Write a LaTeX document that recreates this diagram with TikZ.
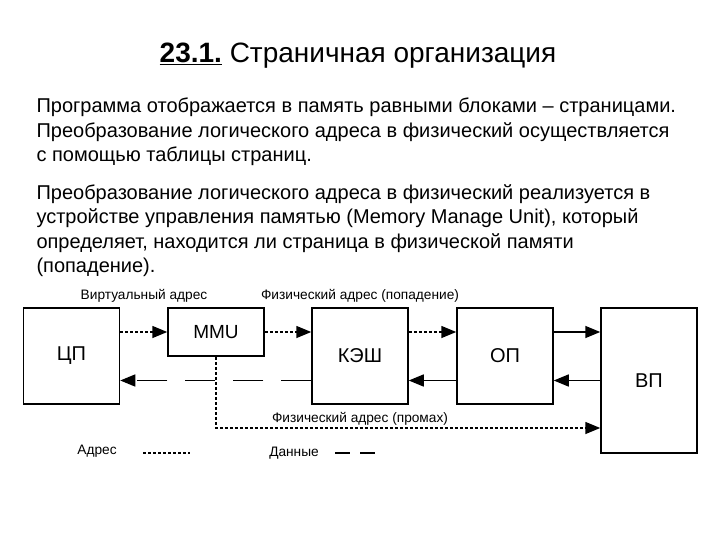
\documentclass[tikz,border=0pt]{standalone}
\usepackage{fontspec}
\setmainfont{Liberation Sans}
\usepackage{tikz}
\usetikzlibrary{arrows.meta}

\begin{document}
\begin{tikzpicture}[x=1pt,y=-1pt,
    block/.style={draw,line width=1.5pt,minimum width=96pt,minimum height=96pt,inner sep=0pt,font=\fontsize{20}{24}\selectfont},
    tag/.style={font=\fontsize{13.7}{16}\selectfont},
    para/.style={anchor=north west,align=left,font=\fontsize{20}{24.5}\selectfont},
    addr/.style={line width=1.5pt,dash pattern=on 3pt off 2pt},
    data/.style={line width=1.5pt,dash pattern=on 30pt off 18pt},
    tip/.style={-{Triangle[length=15pt,width=12pt]}}]
			\useasboundingbox (0,0) rectangle (720,540);
			\node (title) at (358,56) {\fontsize{28}{33}\selectfont\underline{\textbf{23.1.}} Страничная организация};
			\node [para] (par1) at (33,94.5)
			{Программа отображается в память равными блоками – страницами.\\
			 Преобразование логического адреса в физический осуществляется\\
			 с помощью таблицы страниц.};
			\node [para] (par2) at (33,181)
			{Преобразование логического адреса в физический реализуется в\\
			 устройстве управления памятью (Memory Manage Unit), который\\
			 определяет, находится ли страница в физической памяти\\
			 (попадение).};

			\node [block] (cpu) at (71.5,356) {ЦП};
			\node [block,minimum height=48pt,font=\fontsize{19}{23}\selectfont] (mmu) at (216,332) {MMU};
			\node [block] (cache) at (360,356) {КЭШ};
			\node [block] (ram) at (505,356) {ОП};
			\node [block,minimum height=145pt] (disk) at (649,380.5) {ВП};

			\draw [addr,tip] (cpu.east |- mmu.west) -- (mmu.west);
			\draw [addr,tip] (mmu.east) -- (cache.west |- mmu.east);
			\draw [addr,tip] (cache.east |- mmu.east) -- (ram.west |- mmu.east);
			\draw [line width=1.5pt,tip] (ram.east |- mmu.east) -- (disk.west |- mmu.east);

			\draw [line width=1.5pt,tip] (disk.west) -- (ram.east |- disk.west);
			\draw [line width=1.5pt,tip] (ram.west |- disk.west) -- (cache.east |- disk.west);
			\draw [data,tip] (cache.west |- disk.west) -- (cpu.east |- disk.west);

			\coordinate (miss) at (216,428);
			\draw [addr,tip] (mmu.south) -- (miss) -- (disk.west |- miss);

			\node [tag] (virt) at (144,296) {Виртуальный адрес};
			\node [tag] (hit) at (360,296) {Физический адрес (попадение)};
			\node [tag] (nohit) at (360,419) {Физический адрес (промах)};

			\node [tag] (lgaddr) at (97,451) {Адрес};
			\coordinate (a1) at (143,453);
			\coordinate (a2) at (190,453);
			\draw [addr] (a1) -- (a2);
			\node [tag] (lgdata) at (294,453) {Данные};
			\coordinate (d1) at (335,453);
			\coordinate (d2) at (375,453);
			\draw [line width=1.5pt,dash pattern=on 15pt off 10pt] (d1) -- (d2);
\end{tikzpicture}
\end{document}
